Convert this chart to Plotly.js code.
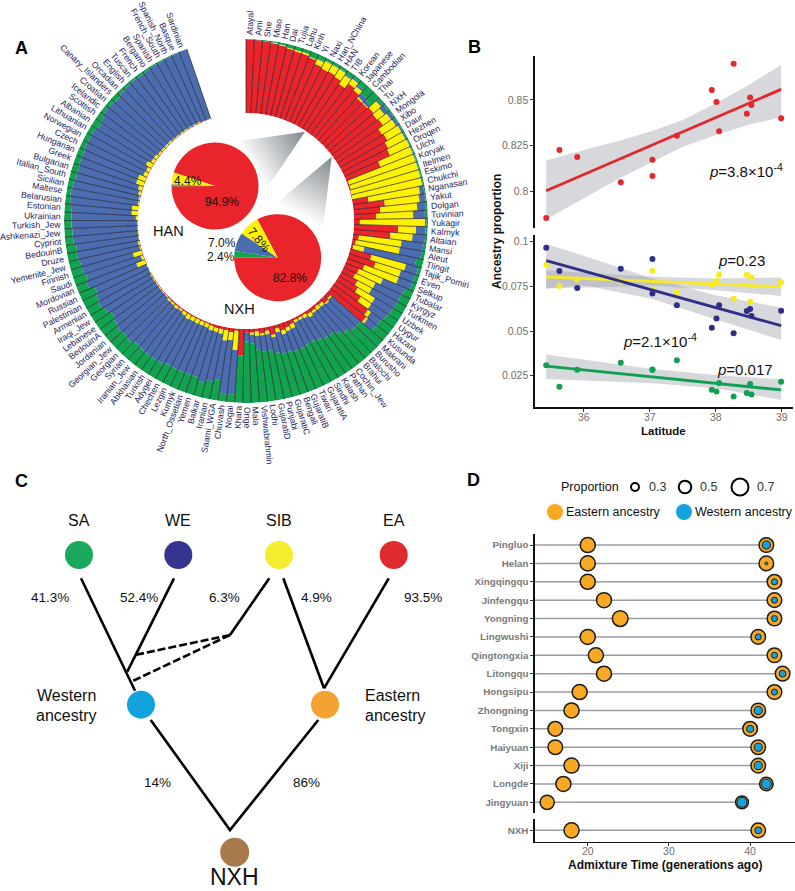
<!DOCTYPE html>
<html><head><meta charset="utf-8">
<script src="https://cdn.plot.ly/plotly-3.0.1.min.js"></script>
<style>html,body{margin:0;padding:0;background:#fff}#c{width:795px;height:891px}</style>
</head><body><div id="c"></div>
<script>
// ---------- Panel A data ----------
const populations = ["Atayal","Ami","She","Miao","Han","Dai","Tujia","Lahu","Kinh","Yi","Naxi","Han_NChina","HAN","TIB","Korean","Japanese","Cambodian","Thai","Tu","NXH","Mongola","Xibo","Daur","Hezhen","Oroqen","Ulchi","Koryak","Itelmen","Eskimo","Chukchi","Nganasan","Yakut","Dolgan","Tuvinian","Yukagir","Kalmyk","Altaian","Mansi","Aleut","Tlingit","Tajik_Pomiri","Even","Selkup","Tubalar","Kyrgyz","Turkmen","Uzbek","Uygur","Hazara","Kusunda","Makrani","Burusho","Balochi","Brahui","Cochin_Jew","Pathan","Kalash","Sindhi","GujaratiA","Tiwari","GujaratiB","Bengali","GujaratiC","Punjabi","GujaratiD","Lodhi","Vishwabrahmin","Mala","Onge","Khara","Nogai","Chuvash","Saami_WGA","Iranian","Balkar","Yemen","North_Ossetian","Kumyk","Lezgin","Chechen","Adygei","Turkish","Abkhasian","Iranian_Jew","Syrian","Georgian","Georgian_Jew","Jordanian","BedouinA","Lebanese","Iraqi_Jew","Armenian","Palestinian","Russian","Mordovian","Saudi","Finnish","Yemenite_Jew","Druze","BedouinB","Cypriot","Ashkenazi_Jew","Turkish_Jew","Ukrainian","Estonian","Belarusian","Maltese","Sicilian","Italian_South","Bulgarian","Greek","Hungarian","Czech","Norwegian","Lithuanian","Albanian","Scottish","Icelandic","Croatian","Canary_Islanders","Orcadian","English","Tuscan","French","Bergamo","Spanish","French_South","Spanish_North","Basque","Sardinian"];
const redShare = [.99,.99,.98,.97,.96,.94,.93,.93,.91,.86,.84,.85,.83,.78,.86,.83,.78,.78,.80,.78,.80,.72,.74,.70,.68,.50,.02,.02,.01,.01,.22,.43,.36,.30,.08,.60,.50,.08,.05,.03,.30,.38,.25,.20,.18,.25,.30,.40,.58,.62,.06,.08,.04,.03,.05,.05,.03,.03,.03,.06,.08,.10,.05,.12,.05,.07,.04,.05,.05,.36,
 .03,.06,.04,.04,.04,.03,.02,.02,.02,.02,.02,.02,.02,.02,.02,.02,.01,.01,.01,.01,.01,.01,0,0,.01,.01,.01,.01,.01,0,0,0,0,0,0,0,.01,.01,.01,.01,.01,.01,.01,.01,.01,.01,.01,.01,.01,.01,.01,.01,.01,.01,.01,.01,.01,.01,.01,.01];
const yellowShare = [0,0,0,.01,.01,.01,.02,.02,.01,.07,.11,.10,.12,.14,.08,.06,.02,.01,.13,.12,.13,.22,.22,.26,.29,.47,.95,.95,.96,.96,.70,.47,.50,.50,.88,.24,.30,.58,.60,.15,.48,.36,.49,.35,.30,.22,.27,.17,.05,.03,.02,.02,.04,.05,.03,.05,.04,.03,.03,.06,.05,.05,.05,.03,.05,.03,.06,.03,0,0,
 .26,.10,.14,.06,.05,.06,.05,.05,.05,.05,.06,.04,.02,.03,.02,.02,.01,.01,.01,.01,.01,.01,.01,.01,.12,.03,.12,.01,.02,.01,.01,.01,.01,.03,.09,.09,.01,.01,.03,.05,.10,.10,.05,.04,.08,.04,.04,.02,.02,.02,.02,.01,.01,.01,.01,.01,.01,.01,0,0];
const blueShare = [0,0,0,0,0,0,0,0,0,.01,.01,.01,.01,.02,.02,.03,.06,.05,.03,.07,.05,.04,.02,.02,.01,.01,.01,.01,.01,.01,.06,.08,.11,.16,.02,.13,.17,.30,.30,.72,.17,.20,.20,.33,.38,.39,.28,.26,.17,.15,.52,.50,.47,.42,.37,.35,.35,.34,.34,.30,.29,.25,.30,.22,.22,.22,.18,.12,.12,0,
 .60,.74,.54,.66,.71,.66,.68,.68,.68,.68,.69,.72,.74,.72,.72,.76,.76,.78,.75,.72,.76,.80,.79,.76,.72,.78,.72,.83,.84,.85,.88,.88,.89,.87,.81,.84,.92,.91,.87,.85,.81,.81,.87,.88,.84,.85,.87,.92,.92,.90,.92,.94,.95,.94,.95,.96,.96,.97,.98,.99];
const greenShare = [.01,.01,.02,.02,.03,.05,.05,.05,.08,.06,.04,.04,.04,.06,.04,.08,.14,.16,.04,.03,.02,.02,.02,.02,.02,.02,.02,.02,.02,.02,.02,.02,.03,.04,.02,.03,.03,.04,.05,.10,.05,.06,.06,.12,.14,.14,.15,.17,.20,.20,.40,.40,.45,.50,.55,.55,.58,.60,.60,.58,.58,.60,.60,.63,.68,.68,.72,.80,.83,.64,
 .11,.10,.28,.24,.20,.25,.25,.25,.25,.25,.23,.22,.22,.23,.24,.20,.22,.20,.23,.26,.22,.18,.20,.23,.15,.18,.15,.15,.13,.14,.11,.11,.10,.10,.10,.07,.06,.07,.09,.09,.08,.08,.07,.07,.07,.10,.08,.05,.05,.07,.05,.04,.03,.04,.03,.02,.02,.01,.01,0];
// pies
const pieLabels = ["EA","SA","WE","SIB"];
const hanPie = [94.9,0.4,0.3,4.4];
const nxhPie = [82.8,2.4,7.0,7.8];
// ---------- Panel B data ----------
const latitude = [35.43,35.63,35.90,36.56,37.04,37.04,37.41,37.94,38.01,38.05,38.27,38.47,38.52,38.54,38.99];
const eaProp  = [.7855,.8227,.8189,.8051,.8173,.8085,.8304,.8555,.8489,.8329,.8698,.8425,.8513,.8473,.8400];
const weProp  = [.0966,.0836,.0741,.0849,.0903,.0711,.0645,.0519,.0571,.0645,.0487,.0612,.0623,.0584,.0614];
const sibProp = [.0871,.0752,.0789,.0778,.0838,.0733,.0718,.0759,.0780,.0815,.0683,.0815,.0664,.0800,.0774];
const saProp  = [.0308,.0188,.0283,.0323,.0285,.0282,.0336,.0171,.0162,.0209,.0134,.0153,.0203,.0145,.0216];
const fitEnds = [35.43,38.99];
const eaFit = [.8004,.8558], weFit = [.0894,.0530], sibFit = [.0804,.0748], saFit = [.0304,.0170];
const eaBandX = [35.43,36,36.5,37,37.5,38,38.5,38.99];
const eaUpper = [.8169,.8227,.8273,.8327,.8391,.8482,.8582,.8691];
const eaLower = [.7849,.7964,.8064,.8155,.8245,.8309,.8364,.8405];
const weBandX = [35.43,36,37.04,38,38.99];
const weUpper = [.0987,.0922,.0795,.0701,.0632];
const weLower = [.0739,.0757,.0679,.0565,.0450];
const sibBandX = [35.43,37.04,38,38.99];
const sibUpper = [.0841,.0804,.0795,.0800];
const sibLower = [.0739,.0754,.0729,.0696];
const saBandX = [35.43,37.04,38,38.99];
const saUpper = [.0369,.0287,.0254,.0229];
const saLower = [.0231,.0207,.0179,.0114];
// ---------- Panel D data ----------
const regions = ["Pingluo","Helan","Xingqingqu","Jinfengqu","Yongning","Lingwushi","Qingtongxia","Litongqu","Hongsipu","Zhongning","Tongxin","Haiyuan","Xiji","Longde","Jingyuan"];
const recentTime = [20,20,20,22,24,20,21,22,19,18,16,16,18,17,15];
const olderTime  = [42,42,43,43,43,41,43,44,43,41,40,41,41,42,39];
const recentEast = [.57,.57,.57,.57,.60,.57,.57,.57,.57,.57,.55,.55,.57,.57,.53];
const olderEast  = [.55,.55,.55,.55,.55,.55,.55,.55,.55,.55,.55,.55,.55,.50,.47];
const olderWest  = [.26,.03,.17,.17,.17,.17,.17,.20,.17,.26,.22,.26,.26,.34,.34];
const nxhRow = {name:"NXH",recent:18,older:41,rEast:.57,oEast:.55,oWest:.20};
// ---------- Panel C diagram data (schematic units) ----------
const nodeNames = ["SA","WE","SIB","EA"];
const nodeX = [79,178.3,279,393.7];
const nodeY = [555,555,555,555];
const nodeColors = ["#1aa85c","#35348f","#f4ec2e","#df2a30"];
const midNodeX = [141,325], midNodeY = [704.7,704.7], midNodeColors = ["#12a2de","#f3a233"];
const rootX = [234.7], rootY = [852.3];
const edgeX = [81,135,null,174,127.3,null,269.3,230,null,283.3,324,null,388.7,324,null,150.7,230,318.3];
const edgeY = [578.3,690.7,null,578.3,671.7,null,578.3,635,null,578.3,688.3,null,578.3,688.3,null,720,830,720];
const dashX = [230,135,null,230,133.3];
const dashY = [635,655,null,635,680.7];

// ---------- page geometry ----------
const W=795,H=891;
const FONT='"Liberation Sans",Arial,sans-serif';
const cx=246,cy=221,Ro=182,Ri=108;
const step=341/populations.length;
const dom=(a,b)=>[a/W,b/W], vdom=(a,b)=>[1-b/H,1-a/H];

const RED="#e9242a",YEL="#fff200",BLU="#4c6cb0",GRN="#12a34f";
const traces=[];
const theta=populations.map((_,i)=>(i+.5)*step);
const tot=populations.map((_,i)=>redShare[i]+yellowShare[i]+blueShare[i]+greenShare[i]);
[[redShare,RED],[yellowShare,YEL],[blueShare,BLU],[greenShare,GRN]].forEach(([v,c])=>{
  traces.push({type:'barpolar',r:v.map((d,i)=>d/tot[i]),theta:theta,width:step,subplot:'polar',
    marker:{color:c,line:{width:0}},hoverinfo:'skip',showlegend:false});
});
// separators between populations
const sepT=[],sepR=[];
for(let i=0;i<=populations.length;i++){sepT.push(i*step,i*step,null);sepR.push(0,1,null);}
traces.push({type:'scatterpolar',mode:'lines',theta:sepT,r:sepR,subplot:'polar',line:{color:'#1b1b2a',width:.7},hoverinfo:'skip',showlegend:false});

// pies
const pieCols=[RED,GRN,BLU,YEL];
function pie(values,px,py,rot){
  const r=43.5;
  return {type:'pie',values:values,labels:pieLabels,sort:false,direction:'clockwise',rotation:rot,textinfo:'none',hoverinfo:'skip',
    marker:{colors:pieCols,line:{width:0}},showlegend:false,
    domain:{x:dom(px-r,px+r),y:vdom(py-r,py+r)}};
}
traces.push(pie(hanPie,215,186,288));
traces.push(pie(nxhPie,277.7,257.7,332));

// Panel B
function band(x,u,l,xa,ya){return {type:'scatter',mode:'lines',x:x.concat(x.slice().reverse()),y:u.concat(l.slice().reverse()),fill:'toself',fillcolor:'rgba(160,163,172,.42)',line:{width:0},xaxis:xa,yaxis:ya,hoverinfo:'skip',showlegend:false};}
function fit(y,c,xa,ya,w){return {type:'scatter',mode:'lines',x:fitEnds,y:y,line:{color:c,width:w||2.8},xaxis:xa,yaxis:ya,hoverinfo:'skip',showlegend:false};}
function pts(y,c,xa,ya){return {type:'scatter',mode:'markers',x:latitude,y:y,marker:{color:c,size:6,line:{width:0}},xaxis:xa,yaxis:ya,hoverinfo:'skip',showlegend:false};}
const cE="#e2272d",cW="#2f2f87",cS="#f8ea22",cA="#0fa052";
traces.push(band(eaBandX,eaUpper,eaLower,'x','y'),fit(eaFit,cE,'x','y'),pts(eaProp,cE,'x','y'));
traces.push(band(weBandX,weUpper,weLower,'x2','y2'),band(sibBandX,sibUpper,sibLower,'x2','y2'),band(saBandX,saUpper,saLower,'x2','y2'));
traces.push(pts(sibProp,cS,'x2','y2'),pts(weProp,cW,'x2','y2'),pts(saProp,cA,'x2','y2'));
traces.push(fit(sibFit,cS,'x2','y2'),fit(weFit,cW,'x2','y2'),fit(saFit,cA,'x2','y2'));

// Panel D
const dia=p=>22.5*p+2.25;
const ORG="#f9a823",SKY="#14a3de";
const xLo=13.5;
function rows(names,rec,old,rE,oE,oW,xa,ya){
  const lx=[],ly=[];
  names.forEach((n,i)=>{lx.push(xLo,old[i],null);ly.push(n,n,null);});
  traces.push({type:'scatter',mode:'lines',x:lx,y:ly,line:{color:'#9a9ca3',width:1.5},xaxis:xa,yaxis:ya,hoverinfo:'skip',showlegend:false});
  traces.push({type:'scatter',mode:'markers',x:rec,y:names,marker:{color:ORG,opacity:1,size:rE.map(dia),line:{color:'#1c1c1c',width:1.5}},xaxis:xa,yaxis:ya,hoverinfo:'skip',showlegend:false});
  traces.push({type:'scatter',mode:'markers',x:old,y:names,marker:{color:ORG,opacity:1,size:oE.map(dia),line:{color:'#1c1c1c',width:1.5}},xaxis:xa,yaxis:ya,hoverinfo:'skip',showlegend:false});
  traces.push({type:'scatter',mode:'markers',x:old,y:names,marker:{color:SKY,opacity:1,size:oW.map(dia),line:{color:'#1c1c1c',width:1}},xaxis:xa,yaxis:ya,hoverinfo:'skip',showlegend:false});
}
rows(regions,recentTime,olderTime,recentEast,olderEast,olderWest,'x3','y3');
rows([nxhRow.name],[nxhRow.recent],[nxhRow.older],[nxhRow.rEast],[nxhRow.oEast],[nxhRow.oWest],'x4','y4');

// Panel C + legend of D on the schematic axes
const ov={xaxis:'x5',yaxis:'y5',hoverinfo:'skip',showlegend:false};
traces.push(Object.assign({type:'scatter',mode:'lines',x:edgeX,y:edgeY,line:{color:'#000',width:2.6}},ov));
traces.push(Object.assign({type:'scatter',mode:'lines',x:dashX,y:dashY,line:{color:'#000',width:2.6,dash:'8px,3px'}},ov));
traces.push(Object.assign({type:'scatter',mode:'markers',x:nodeX,y:nodeY,marker:{opacity:1,size:28,color:nodeColors,line:{width:0}}},ov));
traces.push(Object.assign({type:'scatter',mode:'markers',x:midNodeX,y:midNodeY,marker:{opacity:1,size:28,color:midNodeColors,line:{width:0}}},ov));
traces.push(Object.assign({type:'scatter',mode:'markers',x:rootX,y:rootY,marker:{opacity:1,size:29,color:"#a87a4b",line:{width:0}}},ov));
const legendProp=[0.3,0.5,0.7], legendPropX=[635,685,740];
traces.push(Object.assign({type:'scatter',mode:'markers',x:legendPropX,y:[487,487,487],marker:{opacity:1,size:legendProp.map(p=>22.5*p+2.25-1),color:'#fff',line:{color:'#000',width:2}}},ov));
traces.push(Object.assign({type:'scatter',mode:'markers',x:[555,684],y:[512,512],marker:{opacity:1,size:16,color:[ORG,SKY],line:{width:0}}},ov));

// annotations
const ann=[];
function T(text,x,y,o){ann.push(Object.assign({text:text,x:x,y:y,xref:'x5',yref:'y5',showarrow:false,xanchor:'center',yanchor:'middle',borderpad:0,borderwidth:0,
   font:{family:FONT,size:(o&&o.size)||13,color:(o&&o.color)||'#111'}},o&&o.extra||{}));}
// radial population labels
const ctx=document.createElement('canvas').getContext('2d');
ctx.font='8.7px "Liberation Sans"';
populations.forEach((n,i)=>{
  const a=theta[i];
  const w=ctx.measureText(n).width;
  const d=Ro+3.5+w/2;
  const rad=a*Math.PI/180;
  const ang=a<=180?a-90:a-270;
  T(n,cx+d*Math.sin(rad),cy-d*Math.cos(rad),{size:8.7,color:'#26245a',extra:{textangle:ang}});
});
T('<b>A</b>',21,48,{size:18,color:'#000'});
T('<b>B</b>',474,47,{size:18,color:'#000'});
T('<b>C</b>',21,481,{size:18,color:'#000'});
T('<b>D</b>',473,480,{size:18,color:'#000'});
// A pies
T('HAN',168.3,230.7,{size:14.5});T('NXH',239.3,309,{size:14.5});
T('4.4%',188.3,181,{size:12});T('94.9%',222.3,201.7,{size:12});
T('7.0%',221.7,243.3,{size:12});T('2.4%',221,256.7,{size:12});
T('7.8%',259,240,{size:12,extra:{textangle:50}});T('82.8%',290,278.3,{size:12});
// B
const pv=(txt,x,y)=>T(txt,x,y,{size:15});
pv('<i>p</i>=3.8×10<sup>-4</sup>',746,170);
pv('<i>p</i>=0.23',741,260);
pv('<i>p</i>=2.1×10<sup>-4</sup>',660,340);
pv('<i>p</i>=0.017',745,369);
T('<b>Ancestry proportion</b>',497,232,{size:12,extra:{textangle:-90}});
T('<b>Latitude</b>',663,431,{size:11.5});
// C
nodeNames.forEach((n,i)=>T(n,nodeX[i],520.7,{size:16}));
T('41.3%',50,597,{size:13.5});T('52.4%',138.5,597,{size:13.5});T('6.3%',224,597,{size:13.5});T('4.9%',316.7,597,{size:13.5});T('93.5%',423,597,{size:13.5});
T('Western',66,695.7,{size:16});T('ancestry',66,715,{size:16});
T('Eastern',392,695.7,{size:16});T('ancestry',395,715,{size:16});
T('14%',157.3,782,{size:13.5});T('86%',306.7,782,{size:13.5});
T('NXH',234.7,877,{size:23});
// D
T('Proportion',590,487,{size:12.5});T('0.3',657,487,{size:12.5,color:'#333'});T('0.5',708,487,{size:12.5,color:'#333'});T('0.7',765,487,{size:12.5,color:'#333'});
T('Eastern ancestry',613.5,512,{size:12.5});T('Western ancestry',743.5,512,{size:12.5});
T('<b>Admixture Time (generations ago)</b>',665,865,{size:12});

// gradient wedges between ring and pies
const svg=`<svg xmlns="http://www.w3.org/2000/svg" width="${W}" height="${H}" viewBox="0 0 ${W} ${H}"><defs>`+
`<linearGradient id="a" gradientUnits="userSpaceOnUse" x1="305" y1="132" x2="252" y2="166"><stop offset="0" stop-color="#7f868c"/><stop offset="1" stop-color="#fff"/></linearGradient>`+
`<linearGradient id="b" gradientUnits="userSpaceOnUse" x1="332" y1="157" x2="300" y2="216"><stop offset="0" stop-color="#7f868c"/><stop offset="1" stop-color="#fff"/></linearGradient>`+
`</defs><polygon points="305,131.7 240,141 268,186.7" fill="url(#a)"/><polygon points="331.7,156.7 276.7,203 323,228" fill="url(#b)"/></svg>`;

const tf={family:FONT,size:10.5,color:'#6f6f6f'};
const tfBold={family:FONT,size:9.8,color:'#7a7a7a',weight:700};
const xrB=[35.26,39.17], xrD=[13.5,45.53];
const blackAxis={showline:true,linecolor:'#111',linewidth:1.6,ticks:'outside',ticklen:3,tickcolor:'#333',tickwidth:1,showgrid:false,zeroline:false,tickfont:tf};
const layout={
  width:W,height:H,autosize:false,margin:{l:0,r:0,t:0,b:0},paper_bgcolor:'#fff',plot_bgcolor:'rgba(0,0,0,0)',showlegend:false,font:{family:FONT},
  polar:{domain:{x:dom(cx-Ro,cx+Ro),y:vdom(cy-Ro,cy+Ro)},hole:Ri/Ro,barmode:'stack',bgcolor:'rgba(0,0,0,0)',
    radialaxis:{visible:false,range:[0,1]},
    angularaxis:{visible:false,direction:'clockwise',rotation:90,thetaunit:'degrees',type:'linear'}},
  xaxis:{domain:dom(535,793),range:xrB,visible:false,anchor:'y'},
  yaxis:Object.assign({},blackAxis,{domain:vdom(56,228),range:[.7801,.874],tickvals:[.8,.825,.85],ticktext:['0.8','0.825','0.85'],anchor:'x'}),
  xaxis2:Object.assign({},blackAxis,{domain:dom(535,793),range:xrB,tickvals:[36,37,38,39],anchor:'y2',ticklabelstandoff:-3}),
  yaxis2:Object.assign({},blackAxis,{domain:vdom(235,407),range:[.00746,.1038],tickvals:[.025,.05,.075,.1],ticktext:['0.025','0.05','0.075','0.1'],anchor:'x2'}),
  xaxis3:{domain:dom(535,795),range:xrD,visible:false,anchor:'y3'},
  yaxis3:Object.assign({},blackAxis,{domain:vdom(534,813),type:'category',categoryorder:'array',categoryarray:regions,range:[14.58,-0.6],anchor:'x3',tickfont:tfBold}),
  xaxis4:Object.assign({},blackAxis,{domain:dom(535,795),range:xrD,tickvals:[20,30,40],anchor:'y4',ticklabelstandoff:-4}),
  yaxis4:Object.assign({},blackAxis,{domain:vdom(819,841.7),type:'category',range:[.5,-.5],anchor:'x4',tickfont:tfBold}),
  xaxis5:{domain:[0,1],range:[0,W],visible:false,anchor:'y5',fixedrange:true},
  yaxis5:{domain:[0,1],range:[H,0],visible:false,anchor:'x5',fixedrange:true},
  annotations:ann,
  images:[{source:'data:image/svg+xml;utf8,'+encodeURIComponent(svg),xref:'paper',yref:'paper',x:0,y:1,sizex:1,sizey:1,sizing:'stretch',xanchor:'left',yanchor:'top',layer:'below'}]
};
Plotly.newPlot('c',traces,layout,{staticPlot:true,displayModeBar:false});
</script></body></html>
